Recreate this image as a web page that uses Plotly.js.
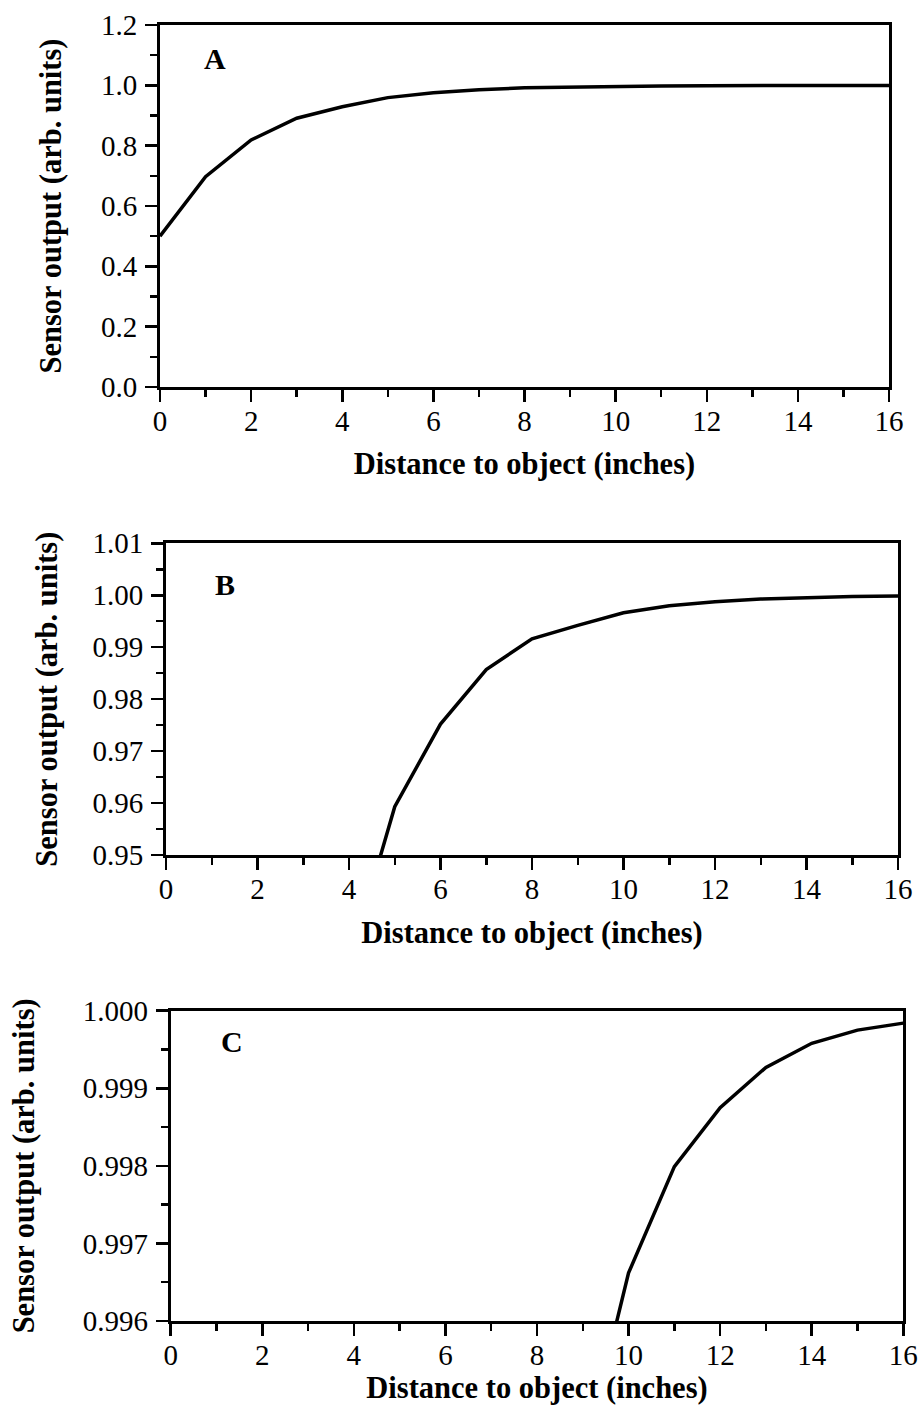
<!DOCTYPE html>
<html>
<head>
<meta charset="utf-8">
<script src="https://cdn.plot.ly/plotly-3.0.1.min.js"></script>
<style>
  html, body { margin: 0; padding: 0; background: #fff; }
  #chart { width: 919px; height: 1408px; }
</style>
</head>
<body>
<div id="chart"></div>
<script>
// Data (same sensor response shown at three vertical zoom levels)
const distanceInches = [0, 1, 2, 3, 4, 5, 6, 7, 8, 9, 10, 11, 12, 13, 14, 15, 16];
const sensorOutput = [0.500, 0.697, 0.819, 0.891, 0.929, 0.9593, 0.9752, 0.9857, 0.9916, 0.9942,
                      0.99662, 0.99799, 0.99875, 0.99927, 0.99958, 0.99975, 0.99984];
const panelLabels = ['A', 'B', 'C'];
const yRanges = [[0, 1.2], [0.95, 1.01], [0.996, 1.000]];
const yMajorStep = [0.2, 0.01, 0.001];
const yMinorStep = [0.1, 0.005, 0.0005];
const yTickFormats = ['.1f', '.2f', '.3f'];
const xRange = [0, 16];
const xMajorStep = 2;
const xMinorStep = 1;
const xTitle = 'Distance to object (inches)';
const yTitle = 'Sensor output (arb. units)';
const labelPos = [[1.21, 1.09], [1.29, 1.002], [1.33, 0.9996]];

// Layout geometry (pixels in the 919x1408 page)
const W = 919, H = 1408;
const boxes = [
  {l: 160, r: 889, t: 25, b: 387},
  {l: 166, r: 898, t: 543.3, b: 855},
  {l: 170.7, r: 903.3, t: 1010.7, b: 1321}
];
const yStandoff = [31, 26, 39];
const xStandoff = [17, 18, 2];

const FONT = 'Liberation Serif, Times New Roman, serif';
const traces = [];
const layout = {
  width: W, height: H,
  margin: {l: 0, r: 0, t: 0, b: 0},
  paper_bgcolor: '#fff', plot_bgcolor: '#fff',
  showlegend: false,
  font: {family: FONT, color: '#000'},
  annotations: []
};

boxes.forEach((bx, i) => {
  const n = i + 1;
  const xa = 'x' + (n === 1 ? '' : n);
  const ya = 'y' + (n === 1 ? '' : n);
  traces.push({
    x: distanceInches, y: sensorOutput,
    type: 'scatter', mode: 'lines',
    xaxis: xa, yaxis: ya,
    line: {color: '#000', width: 3.5},
    hoverinfo: 'skip'
  });
  const common = {
    showline: true, linecolor: '#000', linewidth: 3, mirror: true,
    showgrid: false, zeroline: false,
    ticks: 'outside', ticklen: 12, tickwidth: 2.5, tickcolor: '#000',
    tickfont: {family: FONT, size: 29, color: '#000'},
    fixedrange: true
  };
  layout['xaxis' + (n === 1 ? '' : n)] = Object.assign({}, common, {
    domain: [bx.l / W, bx.r / W],
    anchor: ya,
    range: xRange,
    tick0: 0, dtick: xMajorStep,
    ticklabelstandoff: -6,
    minor: {dtick: xMinorStep, ticks: 'outside', ticklen: 7, tickwidth: 2.5, tickcolor: '#000'},
    title: {text: xTitle, font: {family: FONT, size: 30.5, color: '#000', weight: 'bold'}, standoff: xStandoff[i]}
  });
  layout['yaxis' + (n === 1 ? '' : n)] = Object.assign({}, common, {
    domain: [1 - bx.b / H, 1 - bx.t / H],
    anchor: xa,
    range: yRanges[i],
    tick0: yRanges[i][0], dtick: yMajorStep[i],
    tickformat: yTickFormats[i],
    ticklabelstandoff: 2,
    minor: {dtick: yMinorStep[i], ticks: 'outside', ticklen: 7, tickwidth: 2.5, tickcolor: '#000'},
    title: {text: yTitle, font: {family: FONT, size: 30.5, color: '#000', weight: 'bold'}, standoff: yStandoff[i]}
  });
  layout.annotations.push({
    xref: xa, yref: ya,
    x: labelPos[i][0], y: labelPos[i][1],
    text: '<b>' + panelLabels[i] + '</b>',
    showarrow: false,
    font: {family: FONT, size: 30, color: '#000'},
    xanchor: 'center', yanchor: 'middle'
  });
});

Plotly.newPlot('chart', traces, layout, {displayModeBar: false, staticPlot: true});
</script>
</body>
</html>
